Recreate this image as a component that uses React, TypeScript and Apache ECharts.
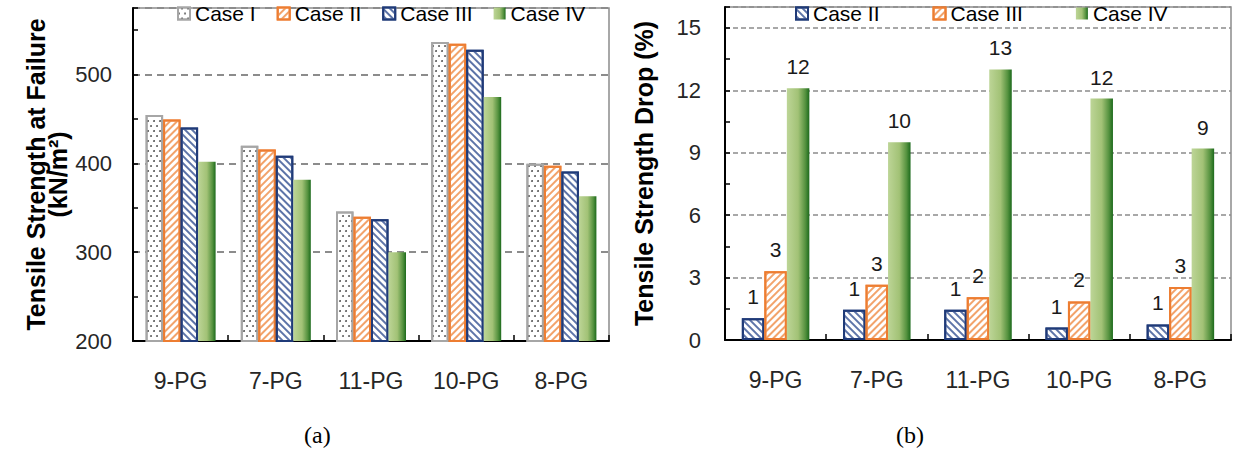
import React, { useEffect, useRef } from "react";
import * as echarts from "echarts";

const categories = ["9-PG", "7-PG", "11-PG", "10-PG", "8-PG"];

// (a) Tensile strength at failure (kN/m²)
const strengthCaseI = [454.5, 420, 345.8, 536.8, 399.5];
const strengthCaseII = [449.5, 415.7, 339.8, 534.8, 397.3];
const strengthCaseIII = [440.5, 408.6, 337.2, 528, 390.9];
const strengthCaseIV = [401.8, 381.5, 300, 474.7, 363];

// (b) Tensile strength drop (%)
const dropCaseII = [1.05, 1.45, 1.45, 0.6, 0.75];
const dropCaseIII = [3.3, 2.65, 2.05, 1.85, 2.55];
const dropCaseIV = [12.1, 9.5, 13.0, 11.6, 9.2];

const yTicksA = [200, 300, 400, 500];
const yTicksB = [0, 3, 6, 9, 12, 15];

const FONT = "Liberation Sans";

const ORANGE = "#ED7D31";
const NAVY = "#1F3A78";
const GRAY = "#A6A6A6";

const dotsDecal = {
  symbol: "circle",
  symbolSize: 0.9,
  dashArrayX: [[2, 4], [0, 3, 2, 1]],
  dashArrayY: [2, 2.5],
  color: "#4a4a4a",
};
const orangeDecal = {
  symbol: "rect",
  dashArrayX: [1, 0],
  dashArrayY: [1.6, 2.4],
  rotation: -Math.PI / 4,
  color: "#F2A36B",
};
const navyDecal = {
  symbol: "rect",
  dashArrayX: [1, 0],
  dashArrayY: [1.6, 2.4],
  rotation: Math.PI / 4,
  color: "#5D74A8",
};
const greenGradient = () =>
  new echarts.graphic.LinearGradient(0, 0, 1, 0, [
    { offset: 0, color: "#BDD597" },
    { offset: 0.5, color: "#A2C276" },
    { offset: 0.82, color: "#55923F" },
    { offset: 1, color: "#1C6A1C" },
  ]);

export default function App() {
  const ref = useRef<HTMLDivElement>(null);

  useEffect(() => {
    if (!ref.current) return;
    const chart = echarts.init(ref.current, null, { renderer: "svg" });

    const axisLabelStyle = { fontFamily: FONT, fontSize: 22, color: "#262626" };
    const gridLine = (w: number, dash: number[]) => ({
      show: true,
      lineStyle: { color: "#8C8C8C", width: w, type: dash },
    });

    const barLabel = {
      show: true,
      position: "top",
      distance: 11,
      fontFamily: FONT,
      fontSize: 21,
      color: "#1a1a1a",
      formatter: (p: any) => String(Math.round(p.value)),
    };

    const option: any = {
      animation: false,
      backgroundColor: "#ffffff",
      grid: [
        { left: 133, top: 8, width: 476, height: 333, show: true, borderColor: "#8C8C8C", borderWidth: 1.5, containLabel: false },
        { left: 725, top: 7, width: 506, height: 333, show: true, borderColor: "#8C8C8C", borderWidth: 1.5, containLabel: false },
      ],
      legend: [
        {
          left: 177,
          top: 3,
          padding: 0,
          itemGap: 21,
          itemWidth: 12,
          itemHeight: 12,
          icon: "rect",
          data: ["Case I", "Case II", "Case III", "Case IV"],
          textStyle: { fontFamily: FONT, fontSize: 21, color: "#000" },
        },
        {
          left: 795,
          top: 3,
          padding: 0,
          itemGap: 53,
          itemWidth: 12,
          itemHeight: 12,
          icon: "rect",
          data: ["b:Case II", "b:Case III", "b:Case IV"],
          formatter: (name: string) => name.replace("b:", ""),
          textStyle: { fontFamily: FONT, fontSize: 21, color: "#000" },
        },
      ],
      xAxis: [0, 1].map((i) => ({
        type: "category",
        gridIndex: i,
        data: categories,
        boundaryGap: true,
        axisLine: { show: true, lineStyle: { color: "#000", width: 2 } },
        axisTick: { show: true, inside: true, length: 6, lineStyle: { color: "#000", width: 1.5 } },
        axisLabel: { ...axisLabelStyle, fontSize: 23, margin: 28 },
        splitLine: { show: false },
      })),
      yAxis: [
        {
          type: "value",
          gridIndex: 0,
          min: 200,
          max: 575,
          interval: 50,
          axisLine: { show: true, lineStyle: { color: "#000", width: 2 } },
          axisTick: { show: true, inside: true, length: 5, lineStyle: { color: "#000", width: 1.5 } },
          axisLabel: {
            ...axisLabelStyle,
            margin: 21,
            formatter: (v: number) => (yTicksA.includes(Math.round(v)) ? String(Math.round(v)) : ""),
          },
          splitLine: { show: false },
          name: "Tensile Strength at Failure\n(kN/m²)",
          nameLocation: "middle",
          nameGap: 64,
          nameTextStyle: { fontFamily: FONT, fontSize: 25, fontWeight: "bold", color: "#000", lineHeight: 22 },
        },
        {
          type: "value",
          gridIndex: 0,
          min: 200,
          max: 575,
          interval: 100,
          axisLine: { show: false },
          axisTick: { show: false },
          axisLabel: { show: false },
          splitLine: gridLine(2, [7, 5]),
        },
        {
          type: "value",
          gridIndex: 1,
          min: 0,
          max: 16,
          interval: 1.5,
          axisLine: { show: true, lineStyle: { color: "#000", width: 2 } },
          axisTick: { show: true, inside: true, length: 5, lineStyle: { color: "#000", width: 1.5 } },
          axisLabel: {
            ...axisLabelStyle,
            margin: 24,
            formatter: (v: number) => {
              const r = Math.round(v * 100) / 100;
              return yTicksB.includes(r) ? String(r) : "";
            },
          },
          splitLine: { show: false },
          name: "Tensile Strength Drop (%)",
          nameLocation: "middle",
          nameGap: 69,
          nameTextStyle: { fontFamily: FONT, fontSize: 25, fontWeight: "bold", color: "#000" },
        },
        {
          type: "value",
          gridIndex: 1,
          min: 0,
          max: 16,
          interval: 3,
          axisLine: { show: false },
          axisTick: { show: false },
          axisLabel: { show: false },
          splitLine: gridLine(1.5, [5, 3]),
        },
      ],
      series: [
        {
          name: "Case I",
          type: "bar",
          xAxisIndex: 0,
          yAxisIndex: 0,
          data: strengthCaseI,
          barWidth: 17.5,
          barGap: "0%",
          itemStyle: { color: "#ffffff", borderColor: GRAY, borderWidth: 2, decal: dotsDecal },
        },
        {
          name: "Case II",
          type: "bar",
          xAxisIndex: 0,
          yAxisIndex: 0,
          data: strengthCaseII,
          barWidth: 17.5,
          barGap: "0%",
          itemStyle: { color: "#ffffff", borderColor: ORANGE, borderWidth: 2, decal: orangeDecal },
        },
        {
          name: "Case III",
          type: "bar",
          xAxisIndex: 0,
          yAxisIndex: 0,
          data: strengthCaseIII,
          barWidth: 17.5,
          barGap: "0%",
          itemStyle: { color: "#ffffff", borderColor: NAVY, borderWidth: 2, decal: navyDecal },
        },
        {
          name: "Case IV",
          type: "bar",
          xAxisIndex: 0,
          yAxisIndex: 0,
          data: strengthCaseIV,
          barWidth: 17.5,
          barGap: "0%",
          itemStyle: { color: greenGradient() },
        },
        {
          name: "b:Case II",
          type: "bar",
          xAxisIndex: 1,
          yAxisIndex: 2,
          data: dropCaseII,
          barWidth: 22.5,
          barGap: "0%",
          itemStyle: { color: "#ffffff", borderColor: NAVY, borderWidth: 2, decal: navyDecal },
          label: barLabel,
        },
        {
          name: "b:Case III",
          type: "bar",
          xAxisIndex: 1,
          yAxisIndex: 2,
          data: dropCaseIII,
          barWidth: 22.5,
          barGap: "0%",
          itemStyle: { color: "#ffffff", borderColor: ORANGE, borderWidth: 2, decal: orangeDecal },
          label: barLabel,
        },
        {
          name: "b:Case IV",
          type: "bar",
          xAxisIndex: 1,
          yAxisIndex: 2,
          data: dropCaseIV,
          barWidth: 22.5,
          barGap: "0%",
          itemStyle: { color: greenGradient() },
          label: barLabel,
        },
      ],
      graphic: [
        {
          type: "text",
          left: 304,
          top: 423,
          style: { text: "(a)", fontFamily: "Liberation Serif", fontSize: 24, fill: "#000" },
        },
        {
          type: "text",
          left: 896,
          top: 423,
          style: { text: "(b)", fontFamily: "Liberation Serif", fontSize: 24, fill: "#000" },
        },
      ],
    };

    chart.setOption(option);
    return () => chart.dispose();
  }, []);

  return (
    <div
      ref={ref}
      style={{ position: "fixed", left: 0, top: 0, width: 1238, height: 465, background: "#fff" }}
    />
  );
}
